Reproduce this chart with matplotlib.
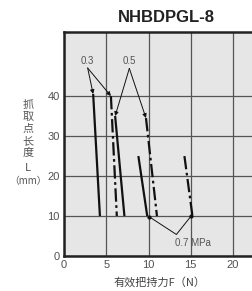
import matplotlib
matplotlib.use("Agg")
from matplotlib import pyplot as plt

plt.rcParams['font.family'] = ['Liberation Sans', 'Noto Sans CJK SC']

# line data (gripping force F [N], gripping point L [mm])
p03_solid_x = [3.45, 4.25]
p03_solid_y = [40.5, 10]
p03_dash_x = [5.55, 6.25]
p03_dash_y = [40, 10]
p05_solid_x = [6.05, 7.15]
p05_solid_y = [35, 10]
p05_dash_x = [9.7, 11.0]
p05_dash_y = [34.5, 10]
p07_solid_x = [8.8, 9.85]
p07_solid_y = [25, 10]
p07_dash_x = [14.25, 15.2]
p07_dash_y = [25, 10]

x_ticks = [0, 5, 10, 15, 20]
y_ticks = [0, 10, 20, 30, 40]
y_label_chars = ['抓', '取', '点', '长', '度', 'L', '（mm）']

fig = plt.figure(figsize=(2.53, 2.91), dpi=100)
ax = fig.add_axes([0.253, 0.120, 0.8016, 0.770])
ax.set_facecolor('#e6e6e6')
ax.set_xlim(0, 24)
ax.set_ylim(0, 56)
ax.set_xticks(x_ticks)
ax.set_yticks(y_ticks)
ax.tick_params(length=0, labelsize=8, labelcolor='#505050', pad=3)
ax.grid(True, color='#555555', lw=0.9)
ax.set_axisbelow(True)
for side in ['left', 'bottom', 'top']:
    ax.spines[side].set_linewidth(1.8)
    ax.spines[side].set_color('#222222')
ax.spines['right'].set_visible(False)

dashdot = (0, (6, 1.6, 1.2, 1.6))
solid_kw = dict(color='#111111', lw=1.6, solid_capstyle='butt')
dash_kw = dict(color='#111111', lw=1.6, linestyle=dashdot)
ax.plot(p03_solid_x, p03_solid_y, **solid_kw)
ax.plot(p03_dash_x, p03_dash_y, **dash_kw)
ax.plot(p05_solid_x, p05_solid_y, **solid_kw)
ax.plot(p05_dash_x, p05_dash_y, **dash_kw)
ax.plot(p07_solid_x, p07_solid_y, **solid_kw)
ax.plot(p07_dash_x, p07_dash_y, **dash_kw)

# pressure labels with leader arrows
arrow = dict(arrowstyle='-|>', lw=0.7, color='#111111', mutation_scale=6,
             shrinkA=0, shrinkB=0)
for start, tips, label in [((2.8, 47.0), [(3.45, 40.5), (5.55, 40)], '0.3'),
                           ((7.73, 46.9), [(6.05, 35), (9.7, 34.5)], '0.5')]:
    for tip in tips:
        ax.annotate('', xy=tip, xytext=start, arrowprops=arrow)
    ax.text(start[0], start[1] + 0.6, label, ha='center', va='bottom',
            fontsize=7, color='#555555')

ax.plot([10.1, 13.3, 15.0], [9.8, 5.4, 9.9], color='#111111', lw=0.7)
ax.plot([10.1, 15.0], [9.8, 9.9], 'o', color='#111111', ms=2)
ax.text(15.3, 3.2, '0.7 MPa', ha='center', va='center', fontsize=7,
        color='#555555')

fig.text(166 / 253, 1 - 18 / 291, 'NHBDPGL-8', ha='center', va='center',
         fontsize=12, fontweight='bold', color='#222222')

# vertical y label, one character per row
label_rows = [105, 117, 129, 141, 153, 168, 181]
for ch, row in zip(y_label_chars, label_rows):
    fig.text(28 / 253, 1 - row / 291, ch, ha='center', va='center',
             fontsize=7 if len(ch) > 1 else 8, color='#555555',
             family=['Noto Sans CJK SC', 'DejaVu Sans'])

fig.text(160 / 253, 1 - 282 / 291, '有效把持力F（N）', ha='center',
         va='center', fontsize=8, color='#444444',
         family=['Noto Sans CJK SC', 'DejaVu Sans'])

fig.savefig('out.png', dpi=100)
